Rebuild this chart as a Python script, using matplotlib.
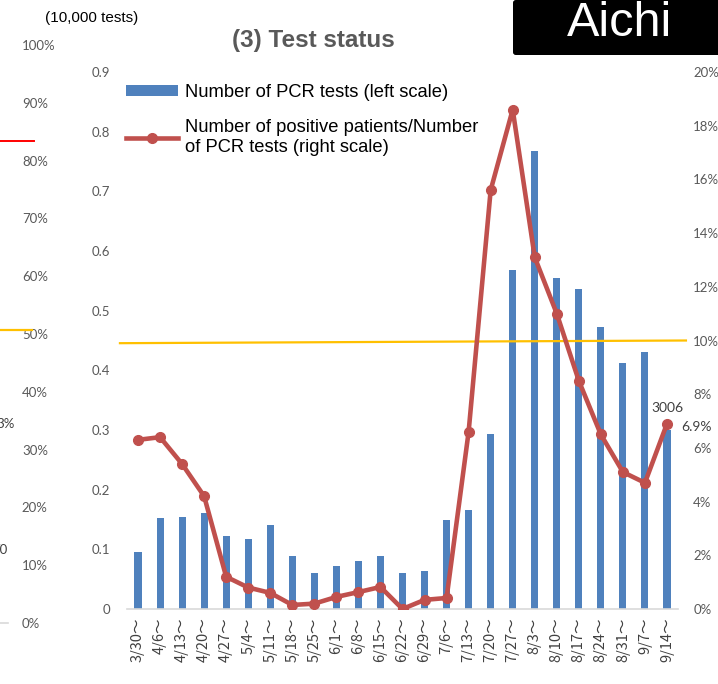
import matplotlib
matplotlib.use("Agg")
import matplotlib.pyplot as plt
from matplotlib.patches import FancyBboxPatch, Patch
from matplotlib.lines import Line2D
import numpy as np

# ---------------- data ----------------
weeks = ["3/30", "4/6", "4/13", "4/20", "4/27", "5/4", "5/11", "5/18", "5/25",
         "6/1", "6/8", "6/15", "6/22", "6/29", "7/6", "7/13", "7/20", "7/27",
         "8/3", "8/10", "8/17", "8/24", "8/31", "9/7", "9/14"]
pcr_tests = [0.096, 0.153, 0.154, 0.161, 0.122, 0.117, 0.141, 0.089, 0.060,
             0.072, 0.080, 0.089, 0.060, 0.064, 0.149, 0.166, 0.293, 0.568,
             0.767, 0.555, 0.536, 0.473, 0.412, 0.431, 0.3006]   # 10,000 tests
positive_rate = [6.3, 6.4, 5.4, 4.2, 1.2, 0.8, 0.6, 0.15, 0.2,
                 0.45, 0.63, 0.82, 0.0, 0.34, 0.41, 6.6, 15.6, 18.6,
                 13.1, 11.0, 8.5, 6.5, 5.1, 4.7, 6.9]              # %
reference_rate = [9.9, 10.0]   # yellow guide line, left end / right end
left_ticks = [0, 0.1, 0.2, 0.3, 0.4, 0.5, 0.6, 0.7, 0.8, 0.9]
right_ticks = [0, 2, 4, 6, 8, 10, 12, 14, 16, 18, 20]
# fragment of the neighbouring (cropped) chart on the left
frag_ticks = [0, 10, 20, 30, 40, 50, 60, 70, 80, 90, 100]
frag_red_level = 83.4
frag_yellow_level = 50.7

W, H = 718, 684
fig = plt.figure(figsize=(W / 100, H / 100), dpi=100)

def fx(x):
    return x / W

def fy(y):
    return 1 - y / H

TICK_C = "#595959"
BLUE = "#4F81BD"
RED = "#C0504D"

# ---------------- main chart ----------------
ax = fig.add_axes([fx(127), fy(609), (678 - 127) / W, (609 - 72) / H])
x = np.arange(len(weeks))
ax.bar(x, pcr_tests, width=0.32, color=BLUE, zorder=2)
ax.set_xlim(-0.5, len(weeks) - 0.5)
ax.set_ylim(0, 0.9)
ax.set_yticks(left_ticks)
ax.set_yticklabels(["0" if t == 0 else f"{t:.1f}" for t in left_ticks])
ax.set_xticks(x)
ax.set_xticklabels([w + "～" for w in weeks], rotation=90,
                   family=["Noto Sans CJK JP", "DejaVu Sans"])
for s in ["top", "right", "left"]:
    ax.spines[s].set_visible(False)
ax.spines["bottom"].set_color("#D9D9D9")
ax.spines["bottom"].set_linewidth(1.2)
ax.tick_params(axis="y", length=0, pad=12, labelsize=9.5, labelcolor=TICK_C)
ax.tick_params(axis="x", length=0, pad=6, labelsize=10.5, labelcolor="#404040")
for lab in ax.get_yticklabels():
    lab.set_family("Lato")

ax2 = ax.twinx()
ax2.set_ylim(0, 20)
ax2.set_yticks(right_ticks)
ax2.set_yticklabels([f"{t}%" for t in right_ticks])
for s in ["top", "right", "left", "bottom"]:
    ax2.spines[s].set_visible(False)
ax2.tick_params(axis="y", length=0, pad=11, labelsize=9.5, labelcolor=TICK_C)
for lab in ax2.get_yticklabels():
    lab.set_family("Lato")
ax2.plot([-0.82, len(weeks) - 0.14], reference_rate, color="#FFC000",
         lw=1.6, clip_on=False, zorder=1)
ax2.plot(x, positive_rate, color=RED, lw=3.3, marker="o", markersize=7,
         zorder=3, solid_joinstyle="round")

# data labels for the last week
ax2.annotate(f"{round(pcr_tests[-1] * 10000)}", (x[-1], positive_rate[-1]),
             xytext=(0, 11), textcoords="offset points", ha="center",
             va="center", fontsize=10, color="#404040", family="Lato")
ax2.annotate(f"{positive_rate[-1]}%", (x[-1], positive_rate[-1]),
             xytext=(10, -2), textcoords="offset points", ha="left",
             va="center", fontsize=10, color="#404040", family="Lato")

# legend
FS = 13.2
handles = [Patch(facecolor=BLUE, edgecolor="none"),
           Line2D([], [], color=RED, lw=3.3, marker="o", markersize=7)]
labels = ["Number of PCR tests (left scale)",
          "Number of positive patients/Number\nof PCR tests (right scale)"]
leg = fig.legend(handles, labels, loc="upper left",
                 bbox_to_anchor=(fx(126), fy(84)), frameon=False,
                 prop={"family": "Liberation Sans", "size": FS},
                 handlelength=52 / (FS * 100 / 72), handleheight=0.55,
                 handletextpad=7 / (FS * 100 / 72),
                 labelspacing=1.0, borderpad=0, borderaxespad=0)
for t in leg.get_texts():
    t.set_linespacing(1.2)

# titles
fig.text(fx(313), fy(40), "(3) Test status", ha="center", va="center",
         fontsize=17.5, fontweight="bold", color=TICK_C,
         family="Liberation Sans")
fig.text(fx(45), fy(18), "(10,000 tests)", ha="left", va="center",
         fontsize=11, color="black", family="Liberation Sans")

# Aichi box
box = FancyBboxPatch((fx(513), fy(55)), fx(230), 55 / H,
                     boxstyle="round,pad=0,rounding_size=0.004",
                     transform=fig.transFigure, facecolor="black",
                     edgecolor="none", clip_on=False)
fig.patches.append(box)
fig.text(fx(620), fy(23), "Aichi", ha="center", va="center", fontsize=35,
         color="white", family="Liberation Sans")

# ---------------- fragment of left neighbouring chart ----------------
ax0 = fig.add_axes([fx(0), fy(623), fx(8), (623 - 45) / H])
ax0.set_ylim(0, 100)
ax0.set_xlim(0, 1)
ax0.yaxis.tick_right()
ax0.set_yticks(frag_ticks)
ax0.set_yticklabels([f"{t}%" for t in frag_ticks])
ax0.set_xticks([])
for s in ["top", "right", "left"]:
    ax0.spines[s].set_visible(False)
ax0.spines["bottom"].set_color("#D9D9D9")
ax0.spines["bottom"].set_linewidth(1.2)
ax0.patch.set_alpha(0)
ax0.tick_params(axis="y", length=0, pad=10, labelsize=9.5, labelcolor=TICK_C)
for lab in ax0.get_yticklabels():
    lab.set_family("Lato")
ax0.axhline(frag_red_level, xmin=0, xmax=34 / 8, color="red", lw=1.4,
            clip_on=False)
ax0.axhline(frag_yellow_level, xmin=0, xmax=32 / 8, color="#FFC000", lw=1.6,
            clip_on=False)
fig.text(fx(-4), fy(424), "3%", ha="left", va="center", fontsize=9.5,
         color="#404040", family="Lato")
fig.text(fx(-8), fy(550), "70", ha="left", va="center", fontsize=9.5,
         color="#404040", family="Lato")

fig.savefig("out.png", dpi=100)
